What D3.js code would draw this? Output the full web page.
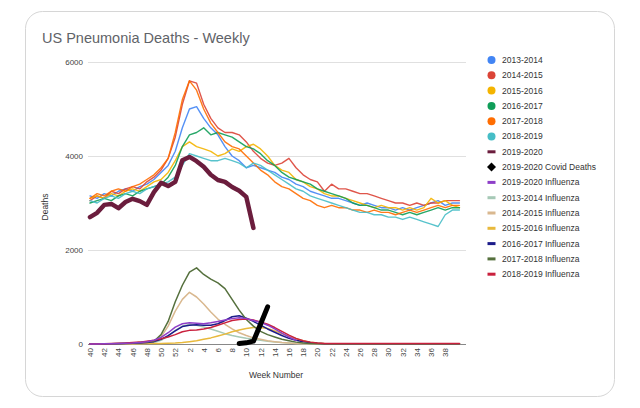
<!DOCTYPE html>
<html><head><meta charset="utf-8">
<script src="https://cdn.jsdelivr.net/npm/d3@7"></script>
<style>body{margin:0;background:#fff}svg{display:block}text{font-family:"Liberation Sans",Arial,sans-serif}</style>
</head><body><svg id="c" width="640" height="408"></svg>
<script>
// Week labels (weeks 40..52, then 1..40)
const weeks = [40,41,42,43,44,45,46,47,48,49,50,51,52,1,2,3,4,5,6,7,8,9,10,11,12,13,14,15,16,17,18,19,20,21,22,23,24,25,26,27,28,29,30,31,32,33,34,35,36,37,38,39,40];
const tickLabels = ["40","42","44","46","48","50","52","2","4","6","8","10","12","14","16","18","20","22","24","26","28","30","32","34","36","38"];
const yTicks = [0,2000,4000,6000];

const p2013 = [3150,3100,3200,3150,3250,3300,3250,3350,3400,3500,3650,3800,4100,4600,5000,5050,4800,4600,4450,4200,4000,3900,3750,3800,3750,3700,3650,3550,3500,3400,3350,3250,3200,3150,3100,3100,3050,3000,2950,3000,2950,2900,2900,2850,2900,2850,2900,2950,3000,3050,2950,3000,3000];
const p2014 = [3050,3150,3100,3250,3200,3300,3350,3300,3450,3550,3700,3950,4400,5100,5600,5550,5100,4800,4600,4500,4500,4450,4300,4100,3950,3850,3800,3850,3950,3750,3600,3500,3450,3250,3400,3300,3300,3250,3200,3200,3150,3100,3050,3000,3000,2950,3000,2950,3000,3000,3050,3050,3050];
const p2015 = [3100,3150,3100,3200,3150,3250,3300,3250,3350,3450,3500,3650,3900,4200,4300,4200,4150,4100,4000,4050,4150,4100,4200,4250,4150,4000,3800,3700,3650,3500,3450,3350,3300,3200,3150,3150,3100,3050,3000,2950,2900,2950,2900,2900,2850,2900,2850,2900,3100,3000,3050,2950,2900];
const p2016 = [3000,3050,3100,3050,3150,3200,3150,3250,3300,3350,3400,3550,3800,4200,4450,4500,4600,4450,4500,4450,4400,4300,4200,4150,4050,3900,3800,3650,3550,3500,3450,3400,3300,3250,3200,3150,3100,3000,2950,2950,2900,2850,2850,2800,2750,2800,2750,2800,2850,2900,2850,2900,2900];
const p2017 = [3100,3200,3150,3250,3300,3250,3350,3400,3500,3600,3750,3950,4500,5200,5600,5400,5000,4700,4500,4300,4200,4150,4000,3850,3700,3600,3450,3350,3300,3200,3100,3050,2950,2900,2950,2900,2900,2850,2850,2800,2850,2800,2800,2750,2800,2850,2800,2850,2900,2950,2900,2950,2950];
const p2018 = [3050,3000,3100,3150,3100,3200,3250,3200,3300,3350,3400,3450,3550,3800,4050,4000,3950,3900,3900,3950,3900,3850,3750,3850,3800,3700,3600,3500,3400,3300,3250,3150,3100,3050,3000,2950,2900,2850,2800,2800,2750,2750,2700,2700,2650,2700,2650,2600,2550,2500,2750,2850,2850];
const p2019 = [2700,2790,2960,2980,2890,3020,3090,3040,2960,3230,3430,3360,3450,3910,3980,3890,3770,3600,3490,3450,3340,3260,3130,2470];
const covid = [null,null,null,null,null,null,null,null,null,null,null,null,null,null,null,null,null,null,null,null,null,10,25,60,420,790];

const f2019 = [0,0,5,5,10,15,20,30,50,80,140,240,360,430,450,440,430,450,480,510,540,560,540,500,460,400,320,230,150,80];
const f2013 = [0,0,0,0,5,5,10,10,15,30,80,170,290,380,420,400,360,320,270,220,180,150,120,100,80,60,45,30,20,10,5,5,5,5,5,5,5,5,5,5,5,5,5,5,5,5,5,5,5,5,5,5,5];
const f2014 = [0,0,0,5,5,10,10,20,30,50,150,380,700,950,1100,1000,850,680,530,420,320,240,180,130,100,70,50,30,20,10,5,5,5,5,5,5,5,5,5,5,5,5,5,5,5,5,5,5,5,5,5,5,5];
const f2015 = [0,0,0,0,0,5,5,5,10,10,10,15,20,30,50,70,100,130,170,210,260,300,330,350,350,330,280,220,160,110,70,40,20,10,5,5,5,5,5,5,5,5,5,5,5,5,5,5,5,5,5,5,5];
const f2016 = [0,0,0,5,5,10,15,20,30,50,100,180,280,370,400,410,400,400,430,500,580,600,550,480,400,320,250,180,120,80,50,30,15,5,5,5,5,5,5,5,5,5,5,5,5,5,5,5,5,5,5,5,5];
const f2017 = [0,0,5,5,10,15,20,30,40,60,200,480,900,1250,1530,1620,1480,1380,1300,1180,950,720,520,380,270,200,150,100,70,40,20,10,5,5,5,5,5,5,5,5,5,5,5,5,5,5,5,5,5,5,5,5,5];
const f2018 = [0,5,5,10,15,20,30,40,60,80,110,150,200,260,290,300,320,350,400,450,500,520,530,510,470,420,350,270,190,120,70,40,20,10,10,10,10,10,10,10,10,10,10,10,10,10,10,10,10,10,10,10,10];

const series = [
  {name:"2013-2014", data:p2013, color:"#4285F4", w:1.4, kind:"dot"},
  {name:"2014-2015", data:p2014, color:"#DB4437", w:1.4, kind:"dot"},
  {name:"2015-2016", data:p2015, color:"#F4B400", w:1.4, kind:"dot"},
  {name:"2016-2017", data:p2016, color:"#0F9D58", w:1.4, kind:"dot"},
  {name:"2017-2018", data:p2017, color:"#FF6D01", w:1.4, kind:"dot"},
  {name:"2018-2019", data:p2018, color:"#46BDC6", w:1.4, kind:"dot"},
  {name:"2019-2020", data:p2019, color:"#6b1d3d", w:4.5, kind:"line"},
  {name:"2019-2020 Covid Deaths", data:covid, color:"#000000", w:5, kind:"diamond"},
  {name:"2019-2020 Influenza", data:f2019, color:"#8e3fc8", w:1.5, kind:"line"},
  {name:"2013-2014 Influenza", data:f2013, color:"#a6c9b6", w:1.5, kind:"line"},
  {name:"2014-2015 Influenza", data:f2014, color:"#d9b88f", w:1.5, kind:"line"},
  {name:"2015-2016 Influenza", data:f2015, color:"#e8b93c", w:1.5, kind:"line"},
  {name:"2016-2017 Influenza", data:f2016, color:"#1c1c8a", w:1.5, kind:"line"},
  {name:"2017-2018 Influenza", data:f2017, color:"#55703d", w:1.5, kind:"line"},
  {name:"2018-2019 Influenza", data:f2018, color:"#c9203d", w:1.5, kind:"line"}
];

const svg = d3.select("#c");
svg.append("rect").attr("x",25.5).attr("y",11.5).attr("width",589).attr("height",385)
  .attr("rx",17).attr("fill","#fff").attr("stroke","#d6d6d6");

svg.append("text").attr("x",42).attr("y",43).attr("font-size",14.5).attr("fill","#5f6368")
  .text("US Pneumonia Deaths - Weekly");

const x = d3.scaleLinear().domain([0,52.5]).range([90,463]);
const y = d3.scaleLinear().domain([0,6000]).range([344,62]);

// gridlines
const yAxis = d3.axisLeft(y).tickValues(yTicks).tickSize(-(466-88)).tickFormat(d3.format("d"));
const gy = svg.append("g").attr("transform","translate(88,0)").call(yAxis);
gy.select(".domain").remove();
gy.selectAll(".tick line").attr("stroke","#e0e0e0");
gy.selectAll(".tick text").attr("x",-5).attr("font-size",8).attr("fill","#444")
  .attr("font-family","Liberation Sans, Arial, sans-serif");

// x axis
const tickIdx = tickLabels.map(t => { const v=+t; return v>=40 ? v-40 : v+12; });
const xAxis = d3.axisBottom(x).tickValues(tickIdx).tickSize(0)
  .tickFormat((d,i)=>tickLabels[i]);
const gx = svg.append("g").attr("transform","translate(0,344)").call(xAxis);
gx.select(".domain").attr("d","M88,0.5H466").attr("stroke","#888");
gx.selectAll(".tick text").attr("font-size",8).attr("fill","#444")
  .attr("font-family","Liberation Sans, Arial, sans-serif")
  .attr("transform","rotate(-90)").attr("text-anchor","end")
  .attr("x",-4).attr("y",0).attr("dy","0.32em");

svg.append("text").attr("x",276).attr("y",378).attr("text-anchor","middle")
  .attr("font-size",8.5).attr("fill","#333").text("Week Number");
svg.append("text").attr("transform","translate(48,207) rotate(-90)").attr("text-anchor","middle")
  .attr("font-size",8.5).attr("fill","#333").text("Deaths");

const line = d3.line().defined(d=>d!=null).x((d,i)=>x(i)).y(d=>y(d));
const drawOrder = [0,1,2,3,4,5,9,10,11,12,13,14,8,6,7];
drawOrder.forEach(k=>{
  const s = series[k];
  svg.append("path").attr("d",line(s.data)).attr("fill","none")
    .attr("stroke",s.color).attr("stroke-width",s.w)
    .attr("stroke-linejoin","round").attr("stroke-linecap","round")
    .attr("opacity", s.kind==="dot"?0.9:1);
});

// legend
const lg = svg.append("g");
series.forEach((s,i)=>{
  const cy = 60 + i*15.3;
  if (s.kind==="dot") {
    lg.append("circle").attr("cx",491.5).attr("cy",cy).attr("r",4).attr("fill",s.color);
  } else if (s.kind==="diamond") {
    lg.append("path").attr("d",`M491.5,${cy-4.5}L496,${cy}L491.5,${cy+4.5}L487,${cy}Z`).attr("fill",s.color);
  } else {
    lg.append("rect").attr("x",487.5).attr("y",cy-1.5).attr("width",8).attr("height",3).attr("fill",s.color);
  }
  lg.append("text").attr("x",502).attr("y",cy).attr("dy","0.35em").attr("font-size",8.5)
    .attr("fill","#333").text(s.name);
});
</script></body></html>
